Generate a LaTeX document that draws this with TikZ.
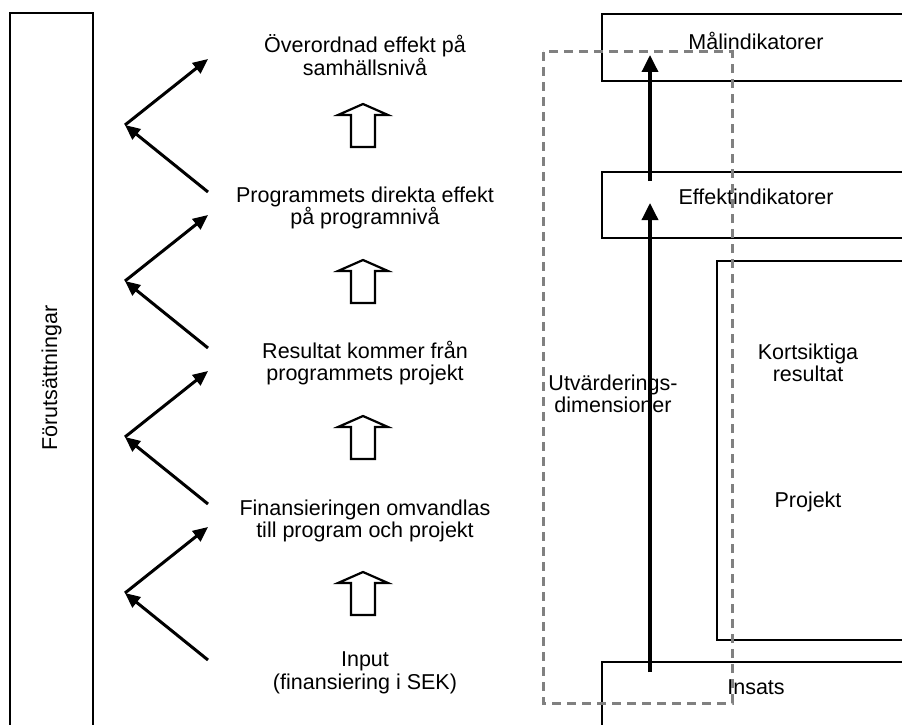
\documentclass[tikz,border=0pt]{standalone}
\usepackage{fontspec}
\setmainfont{Liberation Sans}
\usetikzlibrary{arrows.meta}
\definecolor{dashgrey}{RGB}{128,128,128}
\newcommand{\hollowup}[2]{\draw[hollow] (#1-12,#2+22) -- (#1-12,#2-10) -- (#1-25,#2-10) -- (#1,#2-21) -- (#1+25,#2-10) -- (#1+12,#2-10) -- (#1+12,#2+22) -- cycle;}

\begin{document}
\begin{tikzpicture}[x=1pt,y=-1pt]

 \tikzset{
    txt/.style={align=center, font=\fontsize{21.5}{22.5}\selectfont, inner sep=0pt},
    box/.style={draw, line width=2pt, inner sep=0pt, anchor=north west},
    zig/.style={line width=3pt, -{Triangle[length=15pt,width=13pt]}},
    lift/.style={line width=3.5pt, -{Triangle[length=17pt,width=16pt]}},
    hollow/.style={draw, line width=2.2pt, line join=miter},
    frame/.style={draw=dashgrey, dash pattern=on 9pt off 6pt, line width=3pt},
  }

  \useasboundingbox (0,0) rectangle (902,725);
  \clip (0,0) rectangle (902,725);

  % left column
  \node (cond) [txt, draw, line width=2pt, rotate=90, minimum width=730pt, minimum height=83pt] at (51.5,378) {Förutsättningar};

  \node (top) [txt] at (365,55) {Överordnad effekt på\\samhällsnivå};
  \node (direct) [txt] at (365,208) {Programmets direkta effekt\\på programnivå};
  \node (result) [txt] at (365,363) {Resultat kommer från\\programmets projekt};
  \node (convert) [txt] at (365,521) {Finansieringen omvandlas\\till program och projekt};
  \node (input) [txt] at (365,673) {Input\\(finansiering i SEK)};

  \hollowup{363}{125}
  \hollowup{363}{281}
  \hollowup{363}{437}
  \hollowup{363}{593}

  \coordinate (v1) at (125,125);
  \coordinate (v1up) at (208,59);
  \coordinate (v1lo) at (208,192);
  \coordinate (v2) at (125,281);
  \coordinate (v2up) at (208,215);
  \coordinate (v2lo) at (208,348);
  \coordinate (v3) at (125,437);
  \coordinate (v3up) at (208,371);
  \coordinate (v3lo) at (208,504);
  \coordinate (v4) at (125,593);
  \coordinate (v4up) at (208,527);
  \coordinate (v4lo) at (208,660);

  \draw[zig] (v1lo) -- (v1);
  \draw[zig] (v1) -- (v1up);
  \draw[zig] (v2lo) -- (v2);
  \draw[zig] (v2) -- (v2up);
  \draw[zig] (v3lo) -- (v3);
  \draw[zig] (v3) -- (v3up);
  \draw[zig] (v4lo) -- (v4);
  \draw[zig] (v4) -- (v4up);

  % right column
  \node (goalbox) [box, minimum width=320pt, minimum height=67pt] at (601,13) {};
  \node (effbox) [box, minimum width=320pt, minimum height=66pt] at (601,171) {};
  \node (projbox) [box, minimum width=200pt, minimum height=379pt] at (716,260) {};
  \node (inbox) [box, minimum width=320pt, minimum height=80pt] at (601,661) {};

  \node (goal) [txt] at (756,41) {Målindikatorer};
  \node (eff) [txt] at (756,197) {Effektindikatorer};
  \node (short) [txt] at (808,363) {Kortsiktiga\\resultat};
  \node (proj) [txt] at (808,502) {Projekt};
  \node (ins) [txt] at (756,687) {Insats};
  \node (dims) [txt] at (613,394) {Utvärderings-\\dimensioner};

  \draw[frame] (543,52) rectangle (732,703);

  \coordinate (a0) at (650,672);
  \coordinate (a1) at (650,203);
  \coordinate (a2) at (650,181);
  \coordinate (a3) at (650,55);
  \draw[lift] (a0) -- (a1);
  \draw[lift] (a2) -- (a3);

\end{tikzpicture}
\end{document}
